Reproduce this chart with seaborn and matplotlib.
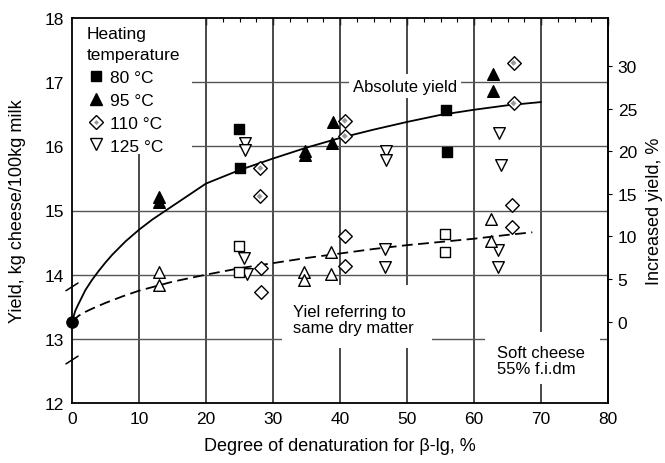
import matplotlib
matplotlib.use("Agg")
import matplotlib.pyplot as plt
from matplotlib.lines import Line2D
from matplotlib.patches import Rectangle
import pandas as pd
import seaborn as sns

# --- measured yields (kg cheese / 100 kg milk) vs. beta-lg denaturation (%) ---
temps = ["80 °C", "95 °C", "110 °C", "125 °C"]

# absolute yield
abs_80_x = [24.9, 25.0, 55.8, 55.9]
abs_80_y = [16.27, 15.67, 16.57, 15.91]
abs_95_x = [13.0, 13.0, 34.8, 34.8, 38.9, 38.8, 62.8, 62.8]
abs_95_y = [15.13, 15.21, 15.86, 15.93, 16.38, 16.05, 17.13, 16.87]
abs_110_x = [28.1, 28.0, 40.7, 40.7, 65.9, 65.9]
abs_110_y = [15.66, 15.22, 16.40, 16.16, 17.30, 16.67]
abs_125_x = [25.8, 25.8, 46.9, 46.9, 63.8, 64.0]
abs_125_y = [16.05, 15.94, 15.93, 15.79, 16.21, 15.71]

# yield referring to the same dry matter
dm_80_x = [24.9, 24.9, 55.6, 55.6]
dm_80_y = [14.45, 14.04, 14.64, 14.35]
dm_95_x = [13.0, 13.0, 34.7, 34.7, 38.6, 38.6, 62.5, 62.5]
dm_95_y = [14.04, 13.84, 14.04, 13.91, 14.36, 14.01, 14.87, 14.53]
dm_110_x = [28.2, 28.2, 40.7, 40.7, 65.6, 65.6]
dm_110_y = [14.10, 13.73, 14.61, 14.14, 15.09, 14.74]
dm_125_x = [25.7, 26.1, 46.7, 46.7, 63.6, 63.6]
dm_125_y = [14.26, 14.01, 14.40, 14.12, 14.39, 14.12]

# unheated reference milk
control_x = [0.0]
control_y = [13.27]

# trend lines
abs_trend_x = [0, 0.5, 1, 2, 3, 4, 5, 6, 8, 10, 12, 14, 17, 20, 25, 30, 35,
               40, 45, 50, 55, 60, 65, 70]
abs_trend_y = [13.27, 13.44, 13.55, 13.76, 13.92, 14.06, 14.19, 14.31, 14.52,
               14.70, 14.86, 15.00, 15.21, 15.42, 15.63, 15.81, 15.98, 16.13,
               16.26, 16.38, 16.49, 16.57, 16.64, 16.69]
dm_trend_x = [0, 1, 2, 3, 5, 7.5, 10, 15, 20, 25, 30, 35, 40, 45, 50, 55, 60,
              65, 68.7]
dm_trend_y = [13.27, 13.36, 13.42, 13.47, 13.56, 13.66, 13.75, 13.89, 14.00,
              14.10, 14.18, 14.26, 14.33, 14.40, 14.46, 14.51, 14.56, 14.62,
              14.66]

x_ticks = [0, 10, 20, 30, 40, 50, 60, 70, 80]
y_ticks = [12, 13, 14, 15, 16, 17, 18]
pct_ticks = [0, 5, 10, 15, 20, 25, 30]

rows = []
series = {
    ("abs", "80 °C"): (abs_80_x, abs_80_y),
    ("abs", "95 °C"): (abs_95_x, abs_95_y),
    ("abs", "110 °C"): (abs_110_x, abs_110_y),
    ("abs", "125 °C"): (abs_125_x, abs_125_y),
    ("dm", "80 °C"): (dm_80_x, dm_80_y),
    ("dm", "95 °C"): (dm_95_x, dm_95_y),
    ("dm", "110 °C"): (dm_110_x, dm_110_y),
    ("dm", "125 °C"): (dm_125_x, dm_125_y),
}
for (basis, temp), (xs, ys) in series.items():
    for xv, yv in zip(xs, ys):
        rows.append({"basis": basis, "temp": temp, "denat": xv, "yield": yv})
df = pd.DataFrame(rows)

sns.set_theme(style="white")
plt.rcParams["font.family"] = ["Liberation Sans", "DejaVu Sans"]
plt.rcParams["axes.unicode_minus"] = False
plt.rcParams["text.color"] = "black"
plt.rcParams["axes.labelcolor"] = "black"
plt.rcParams["xtick.color"] = "black"
plt.rcParams["ytick.color"] = "black"

fig = plt.figure(figsize=(6.65, 4.64), dpi=100)
ax = fig.add_axes([72 / 665, 1 - 404 / 464, 536 / 665, 385 / 464])

ax.set_xlim(0, 80)
ax.set_ylim(12, 18)
ax.set_xticks(x_ticks)
ax.set_yticks(y_ticks)
ax.set_xticks([v + 2.5 * k for v in range(0, 80, 10) for k in (1, 2, 3)], minor=True)
ax.set_yticks([v + 0.5 for v in range(12, 18)], minor=True)

# grid
for xv in x_ticks[1:-1]:
    ax.axvline(xv, color="#2a2a2a", lw=1.2, zorder=0.6)
for yv in y_ticks[1:-1]:
    ax.axhline(yv, color="#555555", lw=1.0, zorder=0.6)

# white panels behind the annotations
for (x0, y0, w, h) in [(0, 15.88, 17.9, 2.12),
                       (31.3, 12.85, 22.4, 0.99),
                       (61.6, 12.30, 17.2, 0.81)]:
    ax.add_patch(Rectangle((x0, y0), w, h, facecolor="white", edgecolor="none",
                           zorder=1.5))

# trend curves
sns.lineplot(x=abs_trend_x, y=abs_trend_y, ax=ax, color="black", lw=1.3,
             sort=False, zorder=3)
sns.lineplot(x=dm_trend_x, y=dm_trend_y, ax=ax, color="black", lw=1.3,
             sort=False, linestyle=(0, (6, 3)), zorder=3)

marker_of = {"80 °C": "s", "95 °C": "^", "110 °C": "D", "125 °C": "v"}
size_of = {"80 °C": 55, "95 °C": 70, "110 °C": 48, "125 °C": 70}

for (basis, temp), sub in df.groupby(["basis", "temp"]):
    filled = basis == "abs" and temp in ("80 °C", "95 °C")
    sns.scatterplot(data=sub, x="denat", y="yield", ax=ax,
                    marker=marker_of[temp], s=size_of[temp],
                    color="black" if filled else "white",
                    edgecolor="black", linewidth=1.0, zorder=4, legend=False)
    if basis == "abs" and temp == "110 °C":
        sns.scatterplot(data=sub, x="denat", y="yield", ax=ax, marker="D",
                        s=9, color="#9a9a9a", edgecolor="none", zorder=5,
                        legend=False)

sns.scatterplot(x=control_x, y=control_y, ax=ax, color="black", s=70,
                edgecolor="black", zorder=6, clip_on=False, legend=False)

# axis-break marks on the left spine
for yb in (13.81, 12.67):
    ax.plot([-0.9, 0.9], [yb - 0.06, yb + 0.06], color="black", lw=1.1,
            clip_on=False, zorder=6)

# annotations
ax.text(41.9, 16.94, "Absolute yield", fontsize=12, ha="left", va="center",
        zorder=3.5, bbox=dict(facecolor="white", edgecolor="none", pad=3))
ax.text(33.0, 13.30, "Yiel referring to\nsame dry matter", fontsize=12,
        ha="left", va="center", linespacing=1.05, zorder=3.5)
ax.text(63.4, 12.66, "Soft cheese\n55% f.i.dm", fontsize=12, ha="left",
        va="center", linespacing=1.05, zorder=3.5)

# legend
handles = [
    Line2D([], [], ls="", marker="s", ms=7.5, mfc="black", mec="black"),
    Line2D([], [], ls="", marker="^", ms=8.5, mfc="black", mec="black"),
    (Line2D([], [], ls="", marker="D", ms=7, mfc="white", mec="black", mew=1.0),
     Line2D([], [], ls="", marker="D", ms=2.5, mfc="#9a9a9a", mec="none")),
    Line2D([], [], ls="", marker="v", ms=8.5, mfc="white", mec="black", mew=1.0),
]
leg = ax.legend(handles, temps, title="Heating\ntemperature",
                loc="upper left", bbox_to_anchor=(0.028, 0.98),
                frameon=False, fontsize=12.5, title_fontsize=12.5,
                alignment="left", borderpad=0, borderaxespad=0,
                handlelength=1.0, handletextpad=0.3, labelspacing=0.45)
leg.get_title().set_linespacing(1.5)
leg.set_zorder(5)

# spines and ticks
for sp in ax.spines.values():
    sp.set_color("black")
    sp.set_linewidth(1.3)
ax.tick_params(which="both", direction="in", top=True, right=False,
               colors="black", labelsize=12.5)
ax.tick_params(which="major", length=5, width=1.0, pad=6)
ax.tick_params(which="minor", length=3, width=0.8)

base = control_y[0]
sec = ax.secondary_yaxis(
    "right",
    functions=(lambda y: (y / base - 1) * 100, lambda p: base * (1 + p / 100)))
sec.set_yticks(pct_ticks)
sec.tick_params(direction="out", length=3, width=0.8, labelsize=12.5,
                colors="black", pad=4)
sec.spines["right"].set_linewidth(1.3)
sec.set_ylabel("Increased yield, %", fontsize=13, labelpad=6)

ax.set_xlabel("Degree of denaturation for β-lg, %", fontsize=13, labelpad=8)
ax.set_ylabel("Yield, kg cheese/100kg milk", fontsize=13, labelpad=13)

fig.savefig("out.png", dpi=100)
